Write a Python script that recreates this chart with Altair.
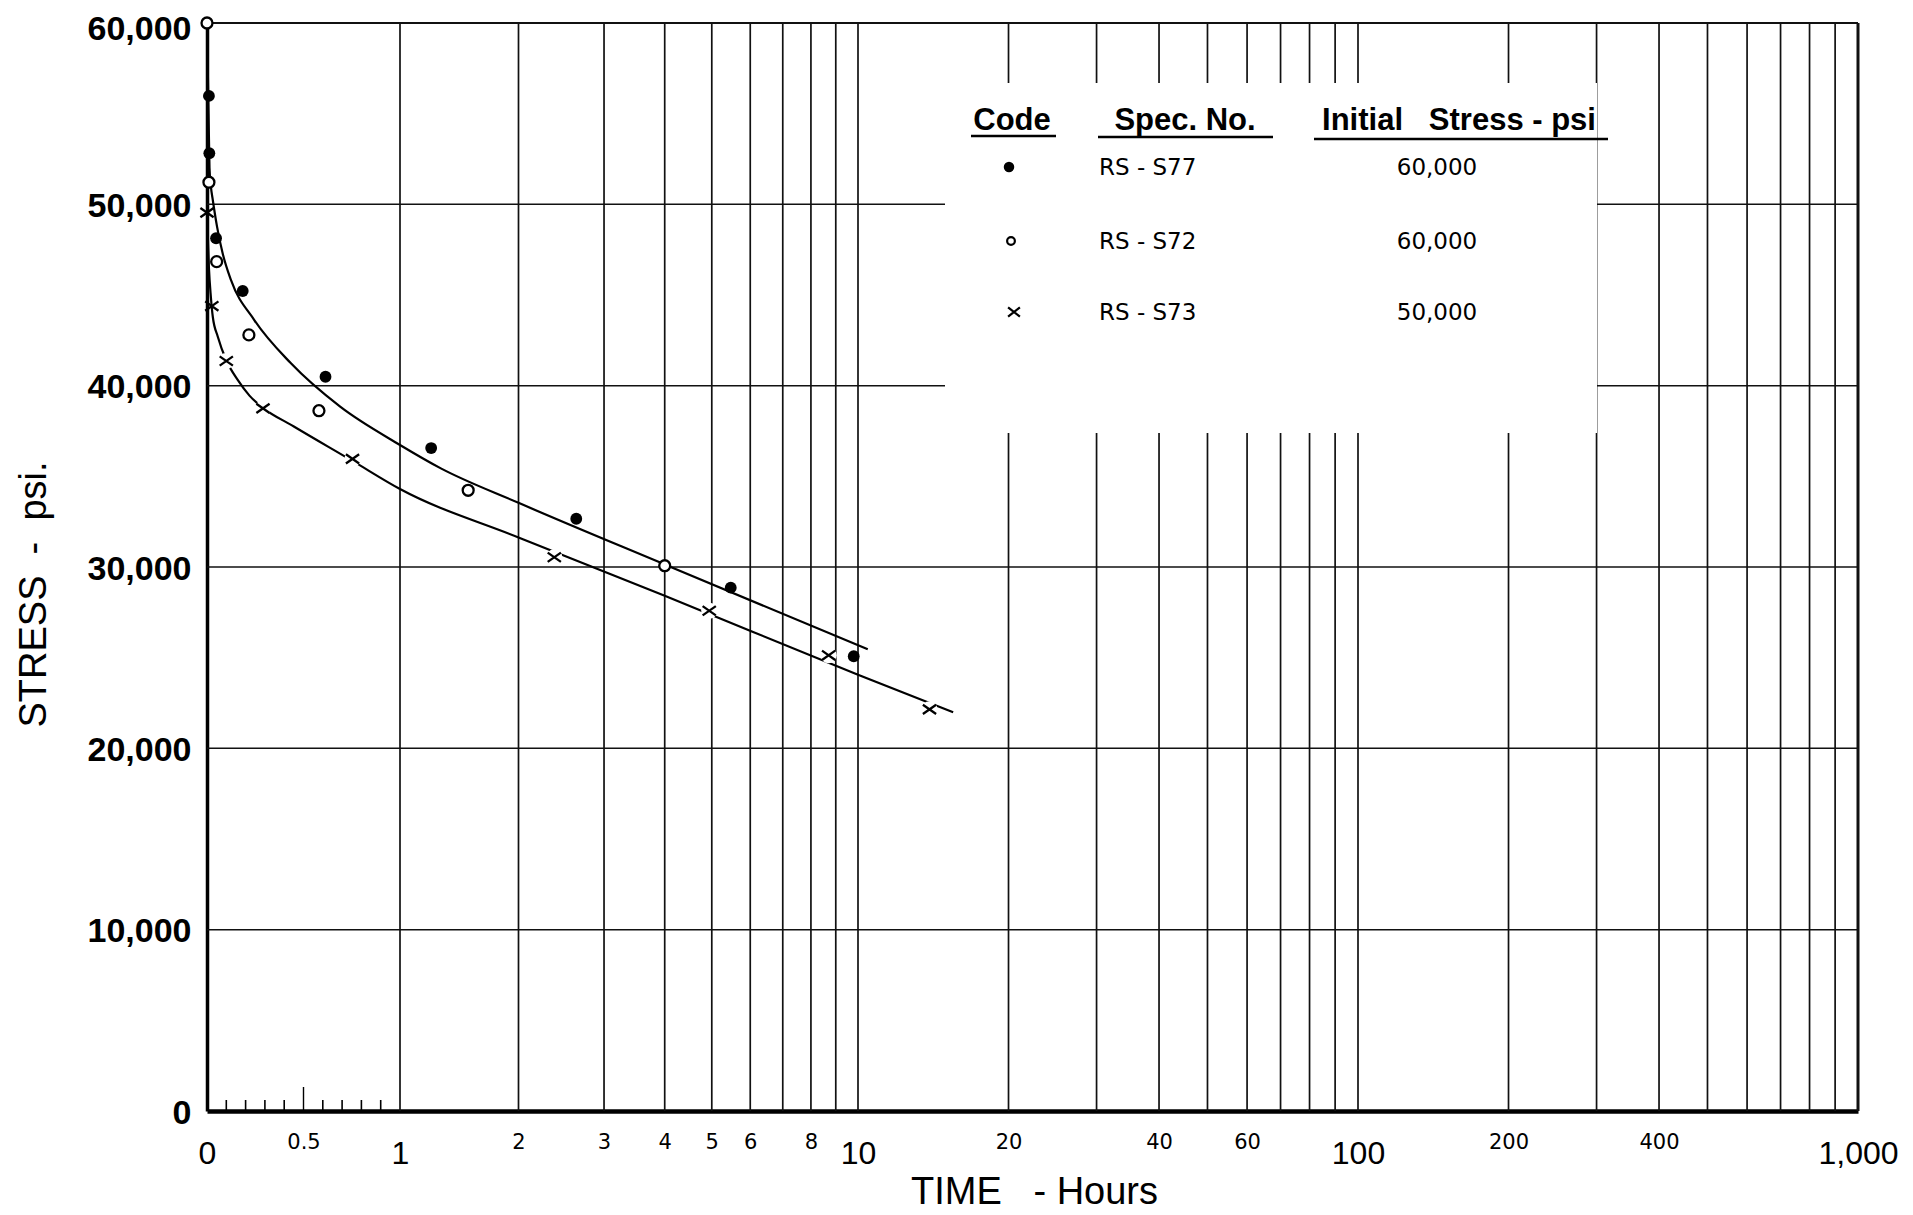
import math
import altair as alt
import pandas as pd

# ---------------- data ----------------
# measured points: time in hours, stress in psi
s77_hours = [0.01, 0.012, 0.047, 0.185, 0.614, 1.2, 2.63, 5.47, 9.8]
s77_stress = [55980, 52820, 48130, 45220, 40490, 36560, 32660, 28860, 25080]

s72_hours = [0.0, 0.01, 0.05, 0.217, 0.58, 1.49, 4.0]
s72_stress = [60000, 51220, 46840, 42800, 38620, 34230, 30070]

s73_hours = [0.0, 0.025, 0.1, 0.29, 0.754, 2.37, 4.94, 8.7, 13.9]
s73_stress = [49540, 44390, 41360, 38750, 35960, 30540, 27590, 25130, 22150]

# faired curves
curve_a_hours = [0.0, 0.008, 0.013, 0.02, 0.03, 0.052, 0.081, 0.124, 0.245, 0.435, 0.69,
                 1.0, 1.27, 2.0, 4.0, 10.46]
curve_a_stress = [60000, 55000, 52000, 51000, 50240, 48770, 47300, 45830, 43620, 41230, 38840,
                  36730, 35440, 33540, 30140, 25460]

curve_b_hours = [0.0, 0.01, 0.02, 0.03, 0.056, 0.1, 0.16, 0.22, 0.29, 0.45, 0.754,
                 1.0, 2.0, 4.0, 10.0, 15.5]
curve_b_stress = [49540, 46500, 44900, 43800, 42700, 41400, 40300, 39450, 38780, 37750, 35850,
                  34300, 31630, 28410, 24060, 21990]

# grid and ticks
grid_hours = [1, 2, 3, 4, 5, 6, 7, 8, 9, 10, 20, 30, 40, 50, 60, 70, 80, 90, 100,
              200, 300, 400, 500, 600, 700, 800, 900, 1000]
grid_stress = [10000, 20000, 30000, 40000, 50000, 60000]
minor_tick_hours = [0.1, 0.2, 0.3, 0.4, 0.6, 0.7, 0.8, 0.9]
half_tick_hours = [0.5]
x_tick_hours = [0, 0.5, 1, 2, 3, 4, 5, 6, 8, 10, 20, 40, 60, 100, 200, 400, 1000]
x_tick_labels = ["0", "0.5", "1", "2", "3", "4", "5", "6", "8", "10", "20", "40", "60",
                 "100", "200", "400", "1,000"]
y_ticks = [0, 10000, 20000, 30000, 40000, 50000, 60000]

# legend table
legend_headers = ["Code", "Spec. No.", "Initial\u00a0\u00a0\u00a0Stress\u00a0-\u00a0psi"]
legend_specs = ["RS - S77", "RS - S72", "RS - S73"]
legend_initial = ["60,000", "60,000", "50,000"]

# ---------------- layout ----------------
W, H = 1651, 1088
U_EXPR = "datum.h <= 1 ? datum.h : 1 + log(datum.h) / LN10"


def to_u(h):
    return h if h <= 1 else 1 + math.log10(h)


x_tick_u = [to_u(h) for h in x_tick_hours]
LABEL_EXPR = "[" + ",".join("'%s'" % s for s in x_tick_labels) + "][indexof([" + \
    ",".join(repr(v) for v in x_tick_u) + "], datum.value)]"
MAJOR = "datum.value == floor(datum.value)"

xscale = alt.Scale(domain=[0, 1, 1.30103, 2, 4], range=[0, 193, 311.5, 651, W],
                   nice=False, zero=False)
yscale = alt.Scale(domain=[0, 60000], nice=False, zero=True)

xaxis = alt.Axis(
    values=x_tick_u, labelExpr=LABEL_EXPR, grid=False, ticks=False, tickSize=0,
    domainWidth=4.5, domainColor="black", labelColor="black",
    labelFontSize={"condition": {"test": MAJOR, "value": 32}, "value": 21},
    labelFont={"condition": {"test": MAJOR, "value": "Liberation Sans"}, "value": "DejaVu Sans"},
    labelPadding={"condition": {"test": MAJOR, "value": 52}, "value": 37},
    labelBaseline="alphabetic", labelAlign="center", labelOverlap=False, labelFlush=False,
    title="TIME\u00a0\u00a0\u00a0-\u00a0Hours", titleFont="Liberation Sans", titleFontSize=38,
    titleFontWeight="normal", titleColor="black", titleX=827, titleY=92,
    titleBaseline="alphabetic", titleAlign="center",
)
yaxis = alt.Axis(
    values=y_ticks, format=",d", grid=False, ticks=False, tickSize=0,
    domainWidth=3.5, domainColor="black", labelColor="black",
    labelFont="Liberation Sans", labelFontSize=34, labelFontWeight="bold",
    labelPadding=16, labelBaseline="alphabetic",
    labelOffset={"condition": {"test": "datum.value == 60000", "value": 16}, "value": 12},
    title="STRESS\u00a0\u00a0-\u00a0\u00a0psi.", titleFont="Liberation Sans", titleFontSize=38,
    titleFontWeight="normal", titleColor="black", titleX=-162, titleY=571, titleAngle=270,
    titleBaseline="alphabetic", titleAlign="center",
)


def X():
    return alt.X("u:Q", scale=xscale, axis=xaxis)


def Y():
    return alt.Y("s:Q", scale=yscale, axis=yaxis)


# ---------------- layers ----------------
vgrid = alt.Chart(pd.DataFrame({"h": grid_hours})).transform_calculate(u=U_EXPR).mark_rule(
    color="#111").encode(
    x=X(),
    strokeWidth=alt.condition("datum.h == 1000", alt.value(3), alt.value(1.7)),
)

hgrid = alt.Chart(pd.DataFrame({"s": grid_stress})).mark_rule(color="#111").encode(
    y=Y(),
    strokeWidth=alt.condition("datum.s == 60000", alt.value(2.2), alt.value(1.5)),
)

minor = alt.Chart(pd.DataFrame({"h": minor_tick_hours})).transform_calculate(u=U_EXPR).mark_rule(
    color="black", strokeWidth=1.6).encode(x=X(), y=alt.value(H), y2=alt.value(H - 11))
half = alt.Chart(pd.DataFrame({"h": half_tick_hours})).transform_calculate(u=U_EXPR).mark_rule(
    color="black", strokeWidth=1.4).encode(x=X(), y=alt.value(H), y2=alt.value(H - 24))

legend_box = alt.Chart(pd.DataFrame({"a": [0]})).mark_rect(fill="white").encode(
    x=alt.value(738), x2=alt.value(1390), y=alt.value(60), y2=alt.value(410))

curves_df = pd.concat([
    pd.DataFrame({"h": curve_a_hours, "s": curve_a_stress, "curve": "A"}),
    pd.DataFrame({"h": curve_b_hours, "s": curve_b_stress, "curve": "B"}),
])
curves = alt.Chart(curves_df).transform_calculate(u=U_EXPR).mark_line(
    color="black", strokeWidth=2.2, interpolate="monotone").encode(
    x=X(), y=Y(), detail="curve:N")

s77_df = pd.DataFrame({"h": s77_hours, "s": s77_stress})
s72_df = pd.DataFrame({"h": s72_hours, "s": s72_stress})
s73_df = pd.DataFrame({"h": s73_hours, "s": s73_stress})

XPATH = "M -1 -0.7 L 1 0.7 M -1 0.7 L 1 -0.7"
XPATH_SYM = "M -1 -0.8 L 1 0.8 M -1 0.8 L 1 -0.8"

gaps = alt.Chart(s73_df).transform_filter("datum.h >= 0.05").transform_calculate(u=U_EXPR).mark_point(
    shape="circle", filled=True, color="white", opacity=1, size=260).encode(x=X(), y=Y())

p77 = alt.Chart(s77_df).transform_calculate(u=U_EXPR).mark_point(
    shape="circle", filled=True, color="black", opacity=1, size=140).encode(x=X(), y=Y())
p72 = alt.Chart(s72_df).transform_calculate(u=U_EXPR).mark_point(
    shape="circle", filled=True, fill="white", stroke="black", strokeWidth=2.3, opacity=1,
    size=120).encode(x=X(), y=Y())
p73 = alt.Chart(s73_df).transform_calculate(u=U_EXPR).mark_point(
    shape=XPATH, filled=False, color="black", strokeWidth=2.3, opacity=1, size=175).encode(x=X(), y=Y())

# ---------------- legend table ----------------
one = pd.DataFrame({"a": [0]})
head_x = [805, 978, 1252]
legend_layers = []
for txt, hx in zip(legend_headers, head_x):
    legend_layers.append(alt.Chart(one).mark_text(
        font="Liberation Sans", fontSize=31, fontWeight="bold", color="black",
        align="center", baseline="alphabetic").encode(
        x=alt.value(hx), y=alt.value(107), text=alt.value(txt)))
for x1, x2, yy in [(764, 849, 113), (891, 1066, 114), (1107, 1401, 116)]:
    legend_layers.append(alt.Chart(one).mark_rule(color="black", strokeWidth=2.5).encode(
        x=alt.value(x1), x2=alt.value(x2), y=alt.value(yy)))

row_y = [144, 218, 289]
sym_x = [802, 804, 807]
legend_layers.append(alt.Chart(one).mark_point(shape="circle", filled=True, color="black",
                                               opacity=1, size=110).encode(
    x=alt.value(sym_x[0]), y=alt.value(row_y[0])))
legend_layers.append(alt.Chart(one).mark_point(shape="circle", filled=True, fill="white",
                                               stroke="black", strokeWidth=2.2, opacity=1, size=60).encode(
    x=alt.value(sym_x[1]), y=alt.value(row_y[1])))
legend_layers.append(alt.Chart(one).mark_point(shape=XPATH_SYM, filled=False, color="black",
                                               strokeWidth=2.2, opacity=1, size=140).encode(
    x=alt.value(sym_x[2]), y=alt.value(row_y[2])))
for i in range(3):
    legend_layers.append(alt.Chart(one).mark_text(
        font="DejaVu Sans", fontSize=23, color="black", align="left", baseline="alphabetic").encode(
        x=alt.value(892), y=alt.value(row_y[i] + 8), text=alt.value(legend_specs[i])))
    legend_layers.append(alt.Chart(one).mark_text(
        font="DejaVu Sans", fontSize=23, color="black", align="center", baseline="alphabetic").encode(
        x=alt.value(1230), y=alt.value(row_y[i] + 8), text=alt.value(legend_initial[i])))

chart = alt.layer(
    vgrid, hgrid, minor, half, legend_box, curves, gaps, p77, p72, p73, *legend_layers
).properties(
    width=W, height=H,
    autosize=alt.AutoSizeParams(type="none"),
    padding={"left": 199, "top": 15, "right": 40, "bottom": 100},
    background="white",
).configure_view(stroke=None)

chart.save("out.html", embed_options={"renderer": "svg", "actions": False})
